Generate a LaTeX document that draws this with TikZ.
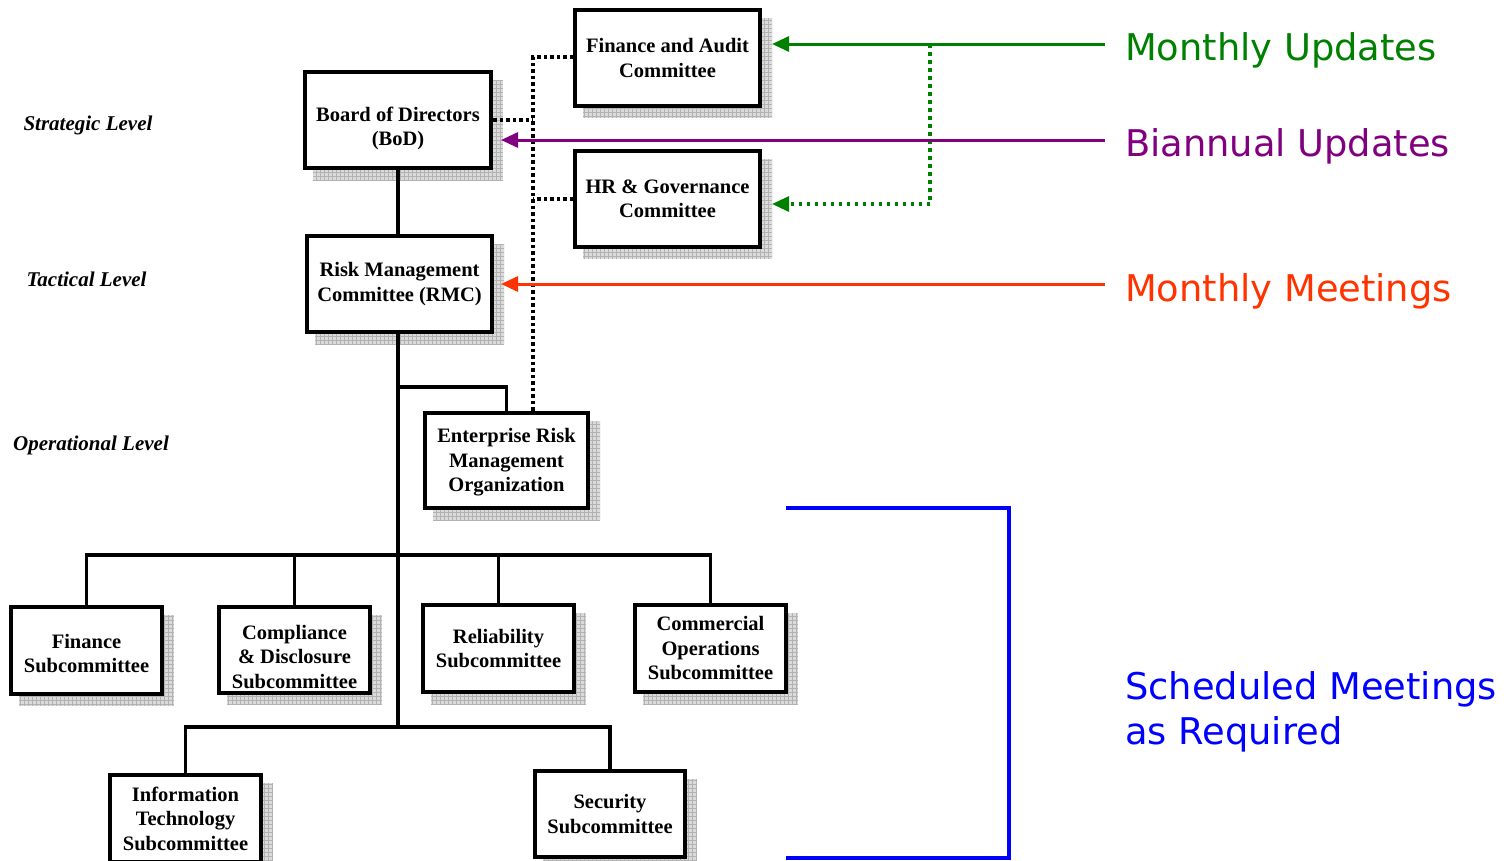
\documentclass[tikz,border=0pt]{standalone}
\usepackage{fontspec}
\setmainfont{Liberation Serif}
\newfontfamily\vfont{DejaVu Sans}
\usetikzlibrary{arrows.meta}
\pgfdeclarelayer{background}
\pgfsetlayers{background,main}
\definecolor{cgreen}{RGB}{0,128,0}
\definecolor{cpurple}{RGB}{128,0,128}
\definecolor{cred}{RGB}{255,51,0}
\definecolor{cblue}{RGB}{0,0,255}
\tikzset{
  boxfont/.style={font=\bfseries\fontsize{20.5}{24.5}\selectfont},
  orgbox/.style={draw, line width=4pt, fill=white, align=center, inner sep=0pt, boxfont},
  boxtext/.style={align=center, inner sep=0pt, boxfont},
  conn/.style={line width=3.5pt},
  blackdot/.style={line width=3.5pt, dash pattern=on 3.5pt off 3pt},
  greendot/.style={line width=3.5pt, cgreen, dash pattern=on 3.5pt off 4.5pt},
  arr/.style={line width=3pt, -{Triangle[length=17pt,width=15pt]}},
  lvl/.style={font=\bfseries\itshape\fontsize{21}{24}\selectfont, inner sep=0pt},
  lbl/.style={font=\vfont\fontsize{36.8}{45}\selectfont, anchor=west, inner sep=0pt, align=left}
}
\begin{document}
\begin{tikzpicture}[x=1pt,y=-1pt]
\useasboundingbox (0,0) rectangle (1508,860);

% boxes
\node[orgbox, minimum width=186pt, minimum height=96pt,
  label={[boxtext, yshift=-8.5pt]center:{Board of Directors\\(BoD)}}] (bod) at (398,120) {};
\node[orgbox, minimum width=185pt, minimum height=96pt] (fac) at (667.5,58) {Finance and Audit\\Committee};
\node[orgbox, minimum width=185pt, minimum height=96pt] (hrg) at (667.5,199) {HR \& Governance\\Committee};
\node[orgbox, minimum width=185pt, minimum height=96pt] (rmc) at (399.5,284) {Risk Management\\Committee (RMC)};
\node[orgbox, minimum width=163pt, minimum height=95pt,
  label={[boxtext, yshift=-2pt]center:{Enterprise Risk\\Management\\Organization}}] (erm) at (506.5,460.5) {};
\node[orgbox, minimum width=151pt, minimum height=87pt,
  label={[boxtext, yshift=-3pt]center:{Finance\\Subcommittee}}] (fin) at (86.5,650.5) {};
\node[orgbox, minimum width=151pt, minimum height=86pt,
  label={[boxtext, yshift=-7pt]center:{Compliance\\\& Disclosure\\Subcommittee}}] (comp) at (294.5,650) {};
\node[orgbox, minimum width=151pt, minimum height=87pt] (rel) at (498.5,648.5) {Reliability\\Subcommittee};
\node[orgbox, minimum width=151pt, minimum height=87pt] (com) at (710.5,648.5) {Commercial\\Operations\\Subcommittee};
\node[orgbox, minimum width=151pt, minimum height=87pt] (it) at (185.5,818.5) {Information\\Technology\\Subcommittee};
\node[orgbox, minimum width=150pt, minimum height=86pt] (sec) at (610,814) {Security\\Subcommittee};

% shadows
\begin{pgfonlayer}{background}
\foreach \n in {bod,fac,hrg,rmc,erm,fin,comp,rel,com,it,sec}{
  \begin{scope}
    \path ([shift={(10,10)}]\n.north west) coordinate (sa)
          ([shift={(10,10)}]\n.south east) coordinate (sb);
    \clip (sa) rectangle (sb);
    \fill[gray!28] (sa) rectangle (sb);
    \draw[gray!60, line width=0.6pt] (sa) grid[step=4pt] (sb);
  \end{scope}
}
\end{pgfonlayer}

% level labels
\node[lvl] (strat) at (88,125) {Strategic Level};
\node[lvl] (tact) at (86.5,279) {Tactical Level};
\node[lvl] (oper) at (91,445) {Operational Level};

% hierarchy connectors
\coordinate (j1) at (398,387);
\coordinate (j2) at (398,555);
\coordinate (j3) at (398,727);
\draw[conn] (bod.south) -- (bod.south |- rmc.north);
\draw[conn] (bod.south |- rmc.south) -- (j3);
\draw[conn] (j1) -| (erm.north);
\draw[conn] (fin.north) |- (j2) -| (com.north);
\draw[conn] (comp.north) -- (comp.north |- j2);
\draw[conn] (rel.north) -- (rel.north |- j2);
\draw[conn] (it.north) |- (j3) -| (sec.north);

% dotted black connectors
\coordinate (dv) at (533,57);
\draw[blackdot] (fac.west |- dv) -- (dv) -- (dv |- erm.north);
\draw[blackdot] (bod.east) -- (bod.east -| dv);
\draw[blackdot] (hrg.west) -- (hrg.west -| dv);

% update arrows
\coordinate (gm) at (1105,44);
\coordinate (gd) at (930,44);
\coordinate (gd2) at (930,204);
\coordinate (pm) at (1105,140);
\coordinate (rm) at (1105,284);
\coordinate (facr) at ([xshift=10pt]fac.east);
\coordinate (hrgr) at ([xshift=10pt]hrg.east);
\coordinate (bodr) at ([xshift=8pt]bod.east);
\coordinate (rmcr) at ([xshift=7pt]rmc.east);
\draw[arr, cgreen] (gm) -- (facr |- gm);
\draw[greendot] (gd) -- (gd2) -- ([xshift=14pt]hrgr |- gd2);
\draw[arr, cgreen] ([xshift=15pt]hrgr |- gd2) -- (hrgr |- gd2);
\draw[arr, cpurple] (pm) -- (bodr |- pm);
\draw[arr, cred] (rm) -- (rmcr |- rm);

% blue bracket
\coordinate (b1) at (786,508);
\coordinate (b2) at (1009,508);
\coordinate (b3) at (1009,858);
\coordinate (b4) at (786,858);
\draw[line width=3.2pt, cblue] (b1) -- (b2) -- (b3) -- (b4);

% right labels
\node[lbl, text=cgreen] (lmu) at (1125,50) {Monthly Updates};
\node[lbl, text=cpurple] (lbu) at (1125,146) {Biannual Updates};
\node[lbl, text=cred] (lmm) at (1125,291) {Monthly Meetings};
\node[lbl, text=cblue] (lsm) at (1125,712) {Scheduled Meetings\\as Required};
\end{tikzpicture}
\end{document}
